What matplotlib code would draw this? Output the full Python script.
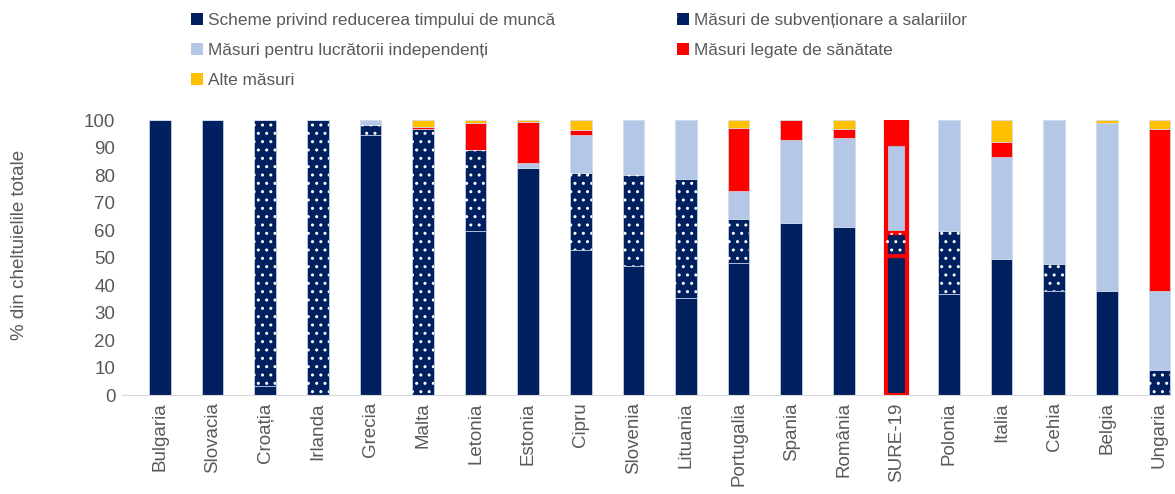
import matplotlib.pyplot as plt
from matplotlib.patches import Patch
import numpy as np

plt.rcParams['font.family'] = ['Liberation Sans', 'DejaVu Sans']
plt.rcParams['hatch.linewidth'] = 1.0

tari = ['Bulgaria', 'Slovacia', 'Croația', 'Irlanda', 'Grecia', 'Malta', 'Letonia', 'Estonia',
        'Cipru', 'Slovenia', 'Lituania', 'Portugalia', 'Spania', 'România', 'SURE-19',
        'Polonia', 'Italia', 'Cehia', 'Belgia', 'Ungaria']
reducere = [100, 100, 3.5, 0, 94.5, 0, 59.5, 82.7, 52.6, 46.8, 35.5, 48.1, 62.5, 61, 50.5, 36.7, 49.5, 37.7, 37.7, 0]
subventii = [0, 0, 96.5, 100, 3.7, 96.7, 29.5, 0, 28, 33.2, 43, 15.9, 0, 0, 8.5, 22.9, 0, 9.8, 0, 9.2]
independenti = [0, 0, 0, 0, 1.8, 0, 0, 1.7, 13.9, 20, 21.5, 10.2, 30.3, 32.3, 32.2, 40.4, 36.9, 52.5, 61.1, 28.6]
sanatate = [0, 0, 0, 0, 0, 0.6, 10, 15, 1.9, 0, 0, 23, 7.2, 3.5, 7.3, 0, 5.6, 0, 0, 58.9]
alte = [0, 0, 0, 0, 0, 2.7, 1, 0.6, 3.6, 0, 0, 2.8, 0, 3.2, 1.5, 0, 8, 0, 1.2, 3.3]

etichete = ['Scheme privind reducerea timpului de muncă', 'Măsuri de subvenționare a salariilor',
            'Măsuri pentru lucrătorii independenți', 'Măsuri legate de sănătate', 'Alte măsuri']

navy = '#002060'
light = '#B4C7E7'
red = '#FF0000'
yellow = '#FFC000'
gray = '#595959'

fig = plt.figure(figsize=(11.75, 4.94), dpi=100)
ax = fig.add_axes([0.104, 0.2, 0.893, 0.557])

x = np.arange(len(tari))
w = 0.41
edges = ['red' if t == 'SURE-19' else '#D0D8EA' for t in tari]
lws = [3 if t == 'SURE-19' else 0.5 for t in tari]

bottom = np.zeros(len(tari))
series = [(reducere, navy, False), (subventii, navy, True), (independenti, light, False),
          (sanatate, red, False), (alte, yellow, False)]
for vals, col, dotted in series:
    vals = np.array(vals, dtype=float)
    ax.bar(x, vals, w, bottom=bottom, color=col, edgecolor=edges, linewidth=lws, zorder=2)
    if dotted:
        ax.bar(x, vals, w, bottom=bottom, facecolor='none', edgecolor='white', hatch='..',
               linewidth=0, zorder=3)
    bottom += vals

ax.set_xlim(-0.72, 19.23)
ax.set_ylim(0, 100)
ax.set_yticks(range(0, 101, 10))
ax.set_xticks(x)
ax.set_xticklabels(tari, rotation=90)
ax.tick_params(length=0, labelsize=13.5, colors=gray, pad=5)
for s in ['top', 'right', 'left']:
    ax.spines[s].set_visible(False)
ax.spines['bottom'].set_color('#D9D9D9')
ax.set_ylabel('% din cheltuielile totale', fontsize=13.5, color=gray)
ax.yaxis.set_label_coords(-0.09, 0.545)

handles = [Patch(facecolor=navy, edgecolor='none'),
           Patch(facecolor=light, edgecolor='none'),
           Patch(facecolor=yellow, edgecolor='none'),
           Patch(facecolor=navy, edgecolor='white', hatch='.', linewidth=0),
           Patch(facecolor=red, edgecolor='none')]
labels = [etichete[0], etichete[2], etichete[4], etichete[1], etichete[3]]
fig.legend(handles, labels, ncol=2, loc='upper left', bbox_to_anchor=(0.149, 1.006),
           frameon=False, fontsize=12.4, handlelength=0.7, handleheight=0.7,
           handletextpad=0.3, columnspacing=7.1, labelspacing=0.87, labelcolor=gray)

fig.savefig('out.png', dpi=100)
